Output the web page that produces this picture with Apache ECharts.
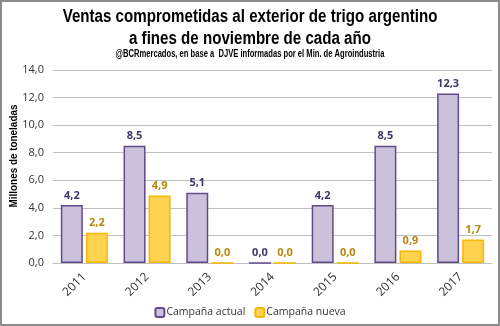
<!DOCTYPE html>
<html><head><meta charset="utf-8">
<script src="https://cdn.jsdelivr.net/npm/echarts@6/dist/echarts.min.js"></script>
<style>
html,body{margin:0;padding:0;background:#fff;}
#c{width:500px;height:326px;box-sizing:border-box;border:2px solid #8c8c8c;}
</style></head><body>
<div id="c"></div>
<script>
const categories = ['2011','2012','2013','2014','2015','2016','2017'];
const actual = [4.2, 8.5, 5.1, 0.0, 4.2, 8.5, 12.3];
const nueva = [2.2, 4.9, 0.0, 0.0, 0.0, 0.9, 1.7];
const yTicks = {min: 0, max: 14, interval: 2};
const titleLines = ['Ventas comprometidas al exterior de trigo argentino', 'a fines de noviembre de cada año'];
const subtitle = '@BCRmercados, en base a  DJVE informadas por el Min. de Agroindustria';

const chart = echarts.init(document.getElementById('c'));
const fmt = v => v.toFixed(1).replace('.', ',');
const W = 496;
chart.setOption({
  animation: false,
  graphic: [
    {type: 'text', x: W/2, y: 15, scaleX: 0.84,
     style: {text: titleLines[0], font: 'bold 18px "Liberation Sans"', fill: '#000', textAlign: 'center', textVerticalAlign: 'middle'}},
    {type: 'text', x: W/2, y: 37, scaleX: 0.84,
     style: {text: titleLines[1], font: 'bold 18px "Liberation Sans"', fill: '#000', textAlign: 'center', textVerticalAlign: 'middle'}},
    {type: 'text', x: W/2, y: 52, scaleX: 0.76,
     style: {text: subtitle, font: 'bold 10px "Liberation Sans"', fill: '#000', textAlign: 'center', textVerticalAlign: 'middle'}},
    {type: 'text', x: 12, y: 154, rotation: Math.PI/2, scaleX: 0.9,
     style: {text: 'Millones de toneladas', font: 'bold 11px "Liberation Sans"', fill: '#000', textAlign: 'center', textVerticalAlign: 'middle'}}
  ],
  grid: {left: 51, right: 6, top: 68, bottom: 61, outerBoundsMode: 'none', containLabel: false},
  legend: {
    bottom: 1, left: 'center', itemWidth: 9, itemHeight: 9, itemGap: 9,
    textStyle: {fontFamily: 'Open Sans', fontSize: 10.5, color: '#333', padding: [0,0,0,-3]},
    data: ['Campaña actual', 'Campaña nueva']
  },
  xAxis: {
    type: 'category', data: categories,
    axisLine: {lineStyle: {color: '#bfbfbf'}},
    axisTick: {show: false},
    axisLabel: {rotate: 45, margin: 12, fontFamily: 'Open Sans', fontSize: 12, color: '#333'}
  },
  yAxis: {
    type: 'value', min: yTicks.min, max: yTicks.max, interval: yTicks.interval,
    axisLine: {show: false}, axisTick: {show: false},
    splitLine: {lineStyle: {color: '#bfbfbf'}},
    axisLabel: {formatter: fmt, fontFamily: 'Open Sans', fontSize: 11, color: '#333', margin: 9}
  },
  series: [
    {name: 'Campaña actual', type: 'bar', data: actual, barGap: '14%', barCategoryGap: '25%',
     itemStyle: {color: '#ccc1da', borderColor: '#5f4b8b', borderWidth: 1.5},
     label: {show: true, position: 'top', formatter: p => fmt(p.value), fontFamily: 'Open Sans', fontWeight: 'bold', fontSize: 11, color: '#3f3566', distance: 4}},
    {name: 'Campaña nueva', type: 'bar', data: nueva,
     itemStyle: {color: '#ffd24f', borderColor: '#f5b800', borderWidth: 1.5},
     label: {show: true, position: 'top', formatter: p => fmt(p.value), fontFamily: 'Open Sans', fontWeight: 'bold', fontSize: 11, color: '#b8860b', distance: 4}}
  ]
});
</script></body></html>
